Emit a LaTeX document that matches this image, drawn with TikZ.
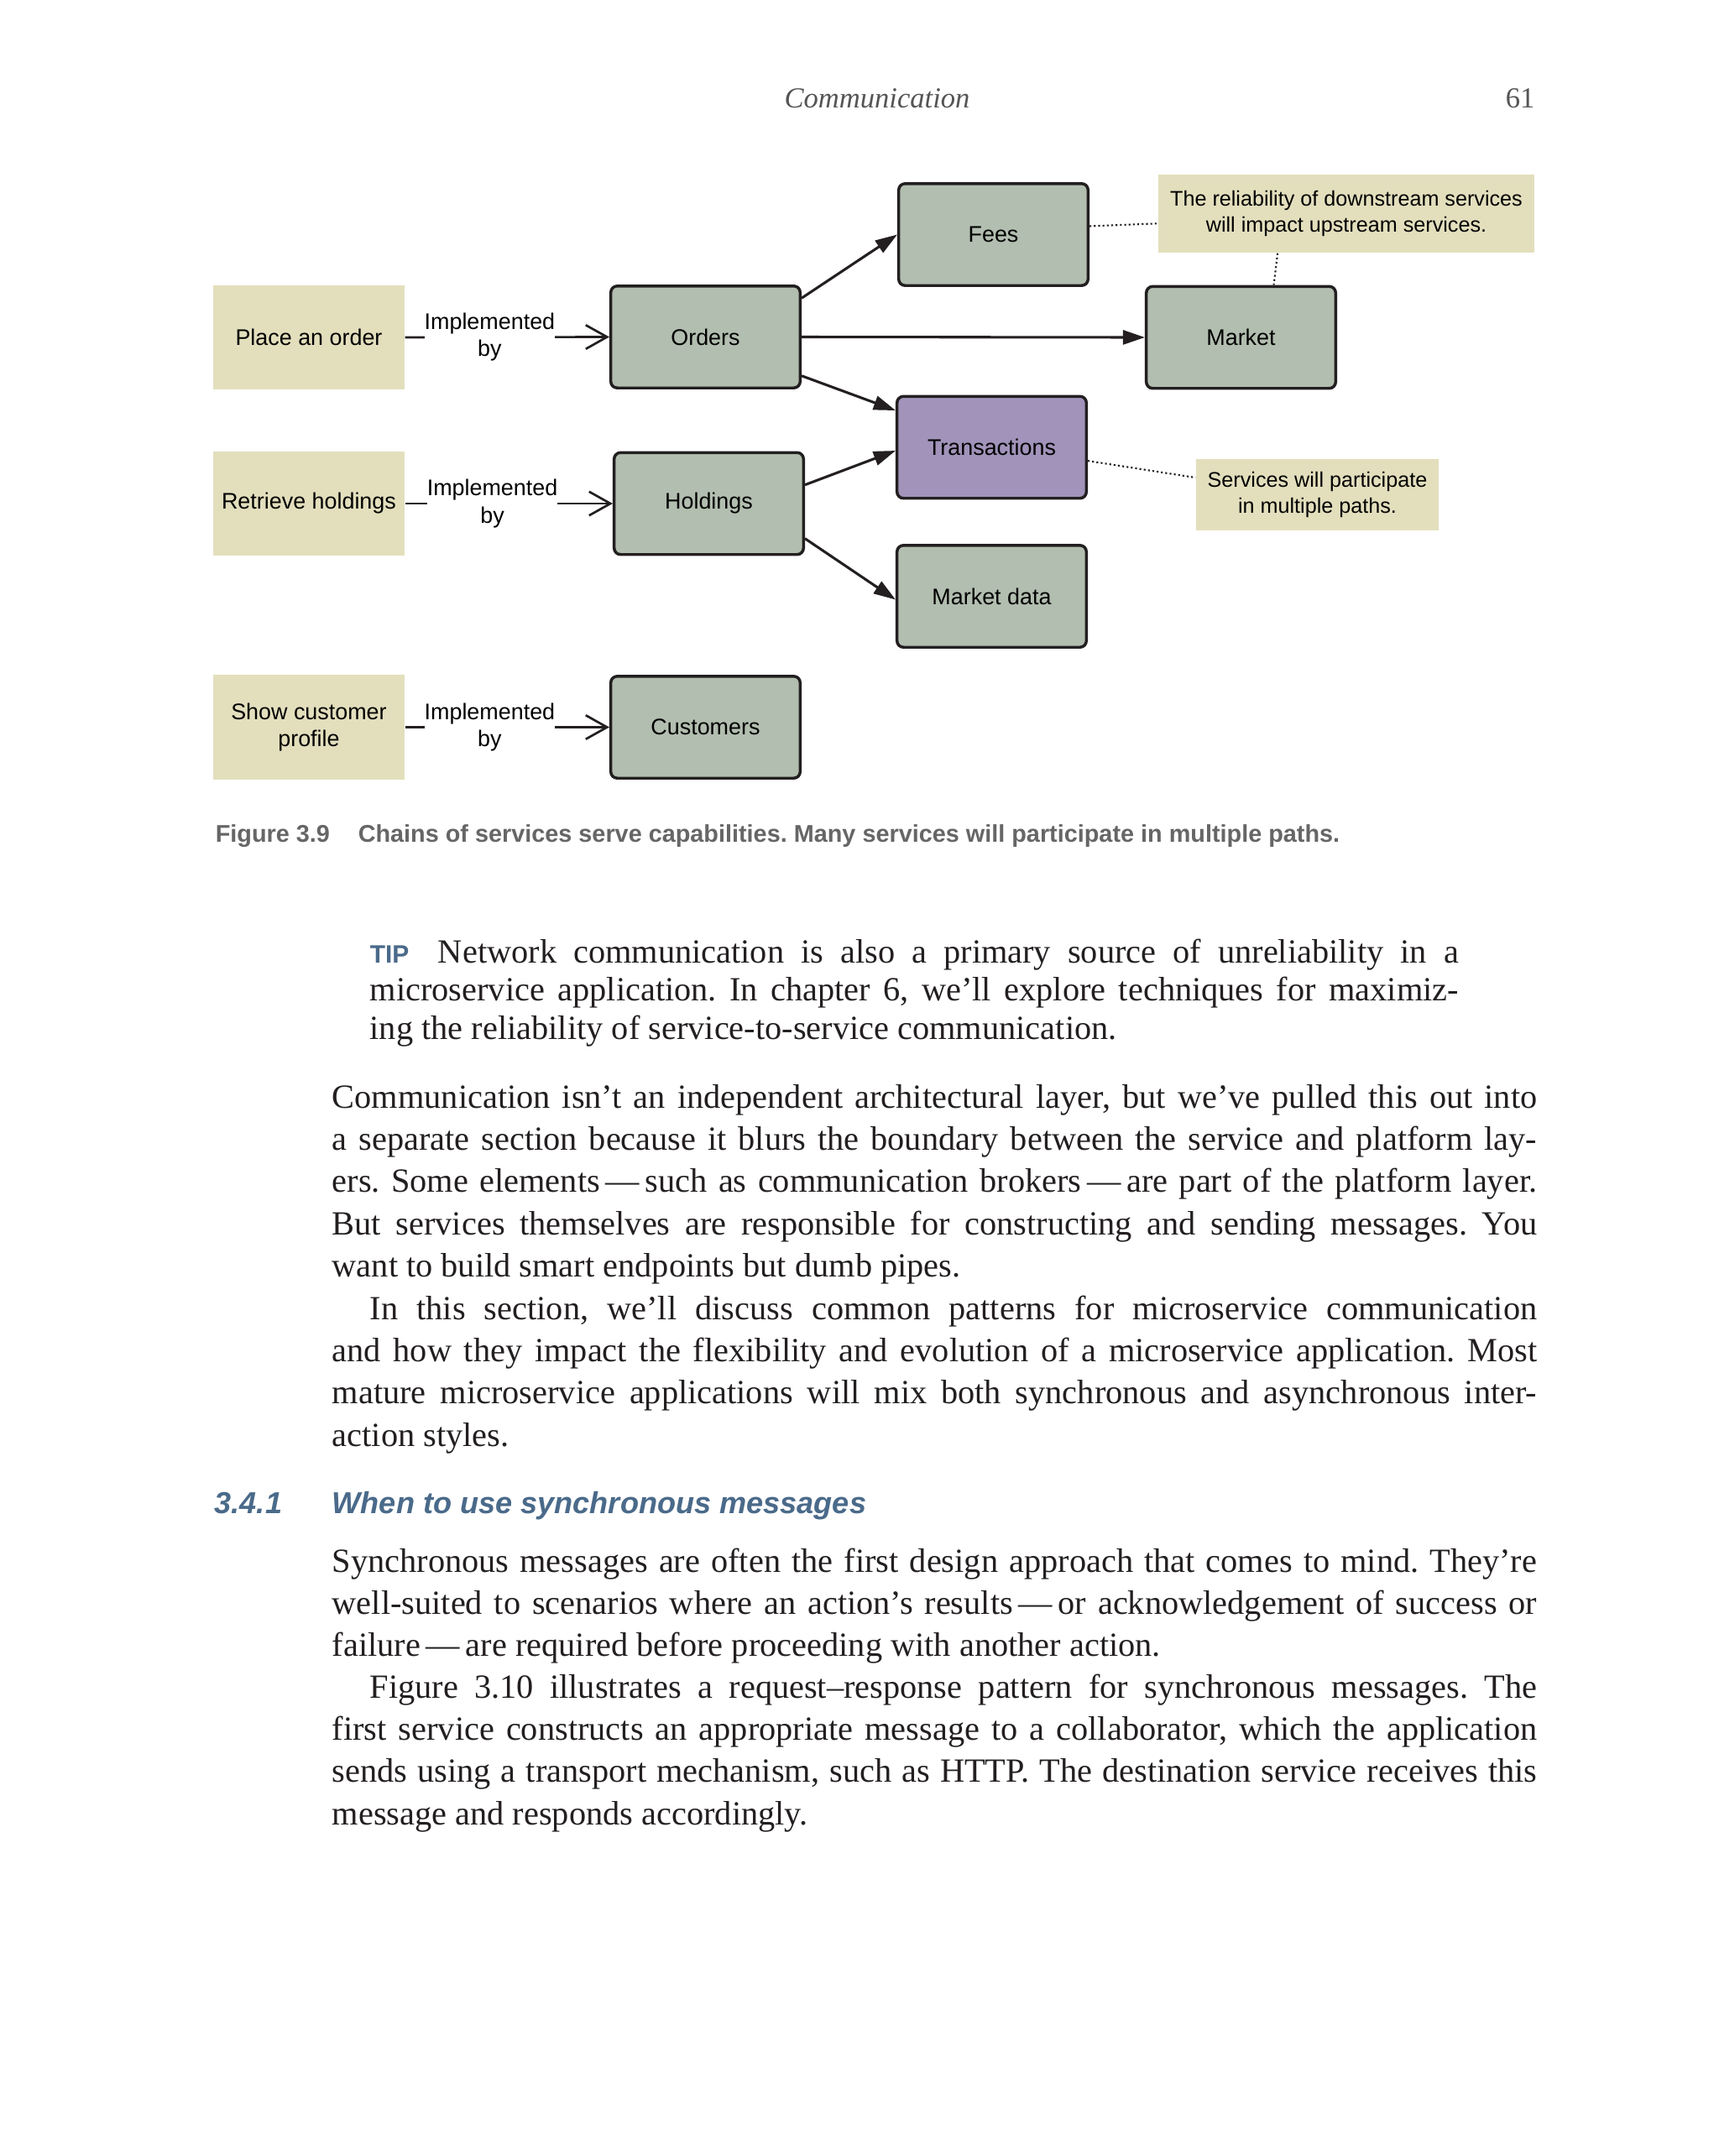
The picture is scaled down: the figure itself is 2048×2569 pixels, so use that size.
\documentclass[tikz,border=0pt]{standalone}
\usepackage{fontspec}
\setmainfont{Liberation Serif}
\newfontfamily\diagfont{Liberation Sans}
\usepackage{tikz}
\usetikzlibrary{shapes, arrows.meta}
\usepackage{color}
\definecolor{captan}{HTML}{E3DFBD}
\definecolor{svcgreen}{HTML}{B2BEAF}
\definecolor{txpurple}{HTML}{A193BA}
\definecolor{boxline}{HTML}{231F20}
\definecolor{headblue}{HTML}{4A6A8A}
\definecolor{capgray}{HTML}{666666}
\definecolor{headgray}{HTML}{555555}
\definecolor{inkblack}{HTML}{231F20}
\newcommand{\diagtext}{\diagfont\fontsize{7}{8.4}\selectfont}
\newcommand{\notetext}{\diagfont\fontsize{6.55}{8.1}\selectfont}
\newcommand{\bodyfnt}{\fontsize{10.5}{13.1}\selectfont}
\tolerance=9999
\hyphenpenalty=10000
\exhyphenpenalty=10000
\frenchspacing
\tikzstyle{capability} = [rectangle, inner xsep=1pt, minimum width=59.3pt, minimum height=32.3pt, text centered, align=center, fill=captan, font=\diagtext]
\tikzstyle{service} = [rectangle, rounded corners=2pt, minimum width=58.7pt, minimum height=31.6pt, text centered, draw=boxline, line width=0.9pt, fill=svcgreen, font=\diagtext]
\tikzstyle{note} = [rectangle, inner xsep=1pt, text centered, align=center, fill=captan, font=\notetext]
\tikzstyle{implby} = [fill=white, inner xsep=0pt, inner ysep=1pt, align=center, font=\diagtext]
\tikzstyle{arrow} = [line width=0.8pt, draw=boxline, -{Triangle[length=6.8pt, width=4.4pt]}]
\tikzstyle{implarrow} = [line width=0.7pt, draw=boxline, -{Straight Barb[length=6.6pt, width=7.4pt]}]
\tikzstyle{dotline} = [line width=0.55pt, draw=boxline, dash pattern=on 0.55pt off 0.8pt]
\tikzstyle{para} = [anchor=base west, inner sep=0pt, align=justify, text=inkblack, font=\bodyfnt]

\begin{document}
\begin{tikzpicture}[x=0.2602pt, y=-0.2602pt]
    \fill[white] (0,0) rectangle (2048,2569);
    \useasboundingbox (0,0) rectangle (2048,2569);

    % running head
    \node (runhead) [anchor=base, font=\itshape\fontsize{9}{11}\selectfont, text=headgray] at (1045,128) {Communication};
    \node (pagenum) [anchor=base east, font=\fontsize{9}{11}\selectfont, text=headgray] at (1842,128) {61};

    % capabilities
    \node (place) [capability] at (368,402) {Place an order};
    \node (retrieve) [capability] at (368,600) {Retrieve holdings};
    \node (profile) [capability] at (368,866.5) {Show customer\\profile};

    % services
    \node (orders) [service] at (840.5,401.5) {Orders};
    \node (holdings) [service] at (844.5,600) {Holdings};
    \node (customers) [service] at (840.5,866.5) {Customers};
    \node (fees) [service] at (1183.5,279.5) {Fees};
    \node (market) [service] at (1478.5,402) {Market};
    \node (transactions) [service, fill=txpurple] at (1181.5,533) {Transactions};
    \node (marketdata) [service] at (1181.5,710.5) {Market data};

    % notes
    \node (reliability) [note, minimum width=116.6pt, minimum height=24.2pt] at (1604,254.5) {The reliability of downstream services\\will impact upstream services.};
    \node (paths) [note, minimum width=75.2pt, minimum height=22.1pt] at (1569.5,589.5) {Services will participate\\in multiple paths.};

    \draw [implarrow] (place.east) -- node[implby, pos=0.414] {Implemented\\by} (orders.west);
    \draw [implarrow] (retrieve.east) -- node[implby, pos=0.42] {Implemented\\by} (holdings.west);
    \draw [implarrow] (profile.east) -- node[implby, pos=0.414] {Implemented\\by} (customers.west);

    \draw [arrow] (orders.22) -- (fees.west);
    \draw [arrow] (orders.east) -- (market.west);
    \draw [arrow] (orders.-22) -- (transactions.159);
    \draw [arrow] (holdings.11) -- (transactions.182);
    \draw [arrow] (holdings.-20) -- (marketdata.182);

    \draw [dotline] (fees.5) -- (reliability.183);
    \draw [dotline] (reliability.210) -- (market.58);
    \draw [dotline] (transactions.-8) -- (paths.172);

    \node (caption) [anchor=base west, inner sep=0pt, font=\diagfont\bfseries\fontsize{7.5}{9}\selectfont, text=capgray] at (256,1003) {Figure 3.9\hspace{8.8pt}Chains of services serve capabilities. Many services will participate in multiple paths.};

    % text of the page
    \node (tip) [para, text width=337.5pt, font=\fontsize{10.5}{11.9}\selectfont] at (440,1147) {{\diagfont\bfseries\fontsize{7.8}{9}\selectfont\color{headblue}TIP}\hspace{9pt}Network communication is also a primary source of unreliability in a\linebreak microservice application. In chapter 6, we’ll explore techniques for maximiz-\linebreak ing the reliability of service-to-service communication.};

    \node (layer) [para, text width=373.5pt] at (395,1320) {Communication isn’t an independent architectural layer, but we’ve pulled this out into\linebreak a separate section because it blurs the boundary between the service and platform lay-\linebreak ers. Some elements\,---\,such as communication brokers\,---\,are part of the platform layer.\linebreak But services themselves are responsible for constructing and sending messages. You\linebreak want to build smart endpoints but dumb pipes.};

    \node (patterns) [para, text width=373.5pt] at (395,1572) {\hspace*{11.7pt}In this section, we’ll discuss common patterns for microservice communication\linebreak and how they impact the flexibility and evolution of a microservice application. Most\linebreak mature microservice applications will mix both synchronous and asynchronous inter-\linebreak action styles.};

    \node (secnum) [anchor=base west, inner sep=0pt, font=\diagfont\bfseries\itshape\fontsize{9.4}{11}\selectfont, text=headblue] at (255,1803) {3.4.1};
    \node (sectitle) [anchor=base west, inner sep=0pt, font=\diagfont\bfseries\itshape\fontsize{9.4}{11}\selectfont, text=headblue] at (395,1803) {When to use synchronous messages};

    \node (syncmsg) [para, text width=373.5pt] at (395,1873) {Synchronous messages are often the first design approach that comes to mind. They’re\linebreak well-suited to scenarios where an action’s results\,---\,or acknowledgement of success or\linebreak failure\,---\,are required before proceeding with another action.};

    \node (reqresp) [para, text width=373.5pt] at (395,2023) {\hspace*{11.7pt}Figure 3.10 illustrates a request--response pattern for synchronous messages. The\linebreak first service constructs an appropriate message to a collaborator, which the application\linebreak sends using a transport mechanism, such as HTTP. The destination service receives this\linebreak message and responds accordingly.};
\end{tikzpicture}
\end{document}
